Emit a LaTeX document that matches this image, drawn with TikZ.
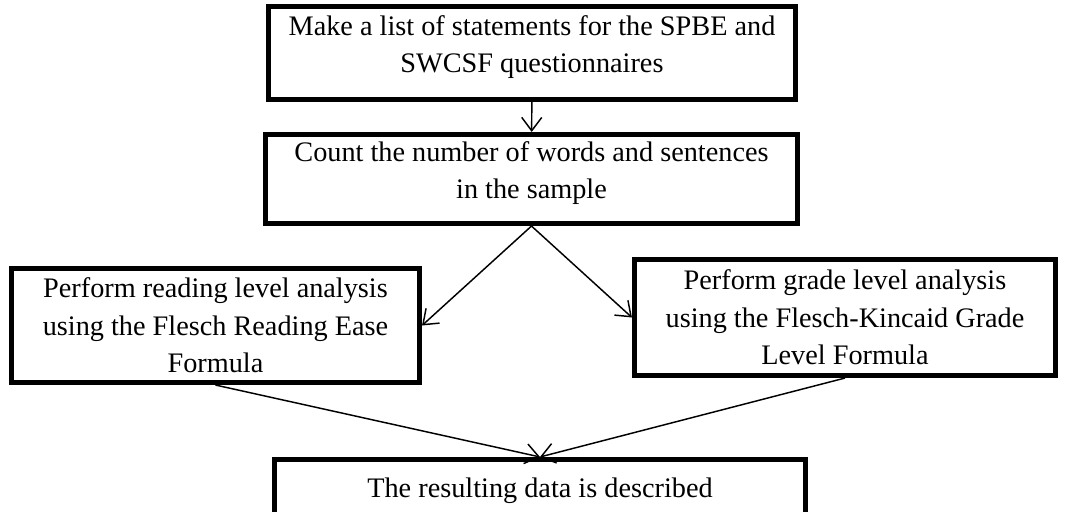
\documentclass[tikz,border=0pt]{standalone}
\usepackage{fontspec}
\setmainfont{Liberation Serif}
\usetikzlibrary{arrows.meta, positioning}
\tikzstyle{stage} = [rectangle, draw, line width=3.8pt, inner sep=2pt, align=center, text centered, font=\fontsize{21.2}{28}\selectfont]
\tikzstyle{flow} = [line width=1.1pt, -{Straight Barb[length=10pt, width=15pt]}]

\begin{document}
\begin{tikzpicture}[x=0.75pt, y=-0.75pt]
  \useasboundingbox (0,0) rectangle (1072,511);
  \node (list) [stage, text depth=13pt, minimum width=395.25pt, minimum height=69.75pt] at (532,53) {Make a list of statements for the SPBE and\\SWCSF questionnaires};
  \node (count) [stage, text depth=13pt, minimum width=399pt, minimum height=66.75pt] at (531.5,179) {Count the number of words and sentences\\in the sample};
  \draw [flow] (list) -- (count);
  \node (reading) [stage, minimum width=306pt, minimum height=85.5pt] at (215.5,325.5) {Perform reading level analysis\\using the Flesch Reading Ease\\Formula};
  \node (grade) [stage, minimum width=315.75pt, minimum height=87pt] at (845,317.5) {Perform grade level analysis\\using the Flesch-Kincaid Grade\\Level Formula};
  \draw [flow] (count.south) -- (reading.east);
  \draw [flow] (count.south) -- (grade.west);
  \node (result) [stage, minimum width=398.25pt, minimum height=47.25pt] at (540,491) {The resulting data is described};
  \draw [flow] (reading.south) -- (result.north);
  \draw [flow] (grade.south) -- (result.north);
\end{tikzpicture}
\end{document}
